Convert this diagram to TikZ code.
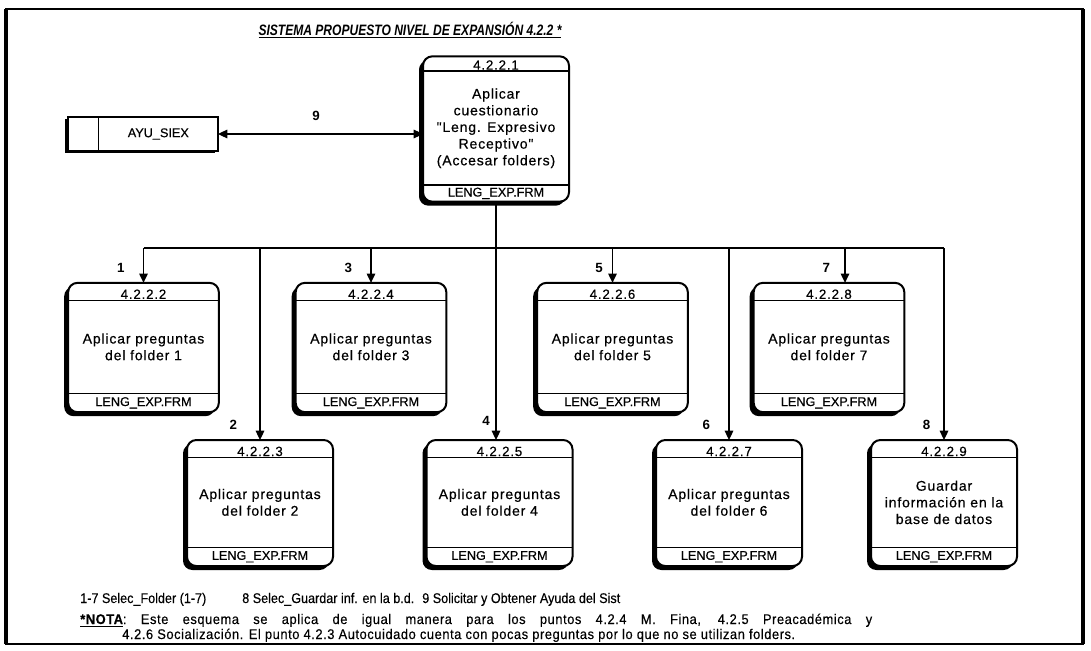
\documentclass[tikz,border=0pt]{standalone}
\usepackage{fontspec}
\setmainfont{Liberation Sans}
\newfontfamily\boxfont[LetterSpace=6,FakeBold=0.5]{Liberation Sans}
\newfontfamily\frmfont[FakeBold=0.5]{Liberation Sans}
\newfontfamily\titlefont[FakeStretch=0.8]{Liberation Sans}
\newfontfamily\legendfont[FakeStretch=0.9,FakeBold=0.3]{Liberation Sans}
\newfontfamily\notefont[LetterSpace=4,FakeStretch=0.92,FakeBold=0.3]{Liberation Sans}
\usetikzlibrary{arrows.meta,shadows}

% process box: rounded frame with shadow, id strip on top, form strip below
\newcommand\procnode[5]{%
  \node[proc,#5] (#1) at (#2) {};
  \draw[sepline] ([yshift=-13pt]#1.north west) -- ([yshift=-13pt]#1.north east);
  \draw[sepline] ([yshift=14pt]#1.south west) -- ([yshift=14pt]#1.south east);
  \node[idtext, anchor=base] (#1-id) at ([yshift=-12pt]#1.north) {#3};
  \node[bodytext] (#1-txt) at ([yshift=0.5pt]#1.center) {#4};
  \node[frmtext] (#1-frm) at ([yshift=7pt]#1.south) {LENG\_EXP.FRM};
}

\begin{document}
\begin{tikzpicture}[x=0.75pt,y=-0.75pt,
  proc/.style={draw, line width=1.5pt, rounded corners=7pt, fill=white,
    inner sep=0pt, outer sep=0pt, minimum width=113pt, minimum height=97pt,
    drop shadow={shadow xshift=-3pt, shadow yshift=-3pt, opacity=1, fill=black}},
  row2/.style={minimum width=109.5pt, minimum height=94.5pt},
  store/.style={draw, line width=1.3pt, fill=white, inner sep=0pt, outer sep=0pt,
    minimum width=112.5pt, minimum height=25pt,
    drop shadow={shadow xshift=-2.5pt, shadow yshift=-1.5pt, opacity=1, fill=black}},
  sepline/.style={line width=1pt},
  idtext/.style={font=\boxfont\fontsize{10}{12}\selectfont, inner sep=0pt},
  bodytext/.style={font=\boxfont\fontsize{10.5}{12.5}\selectfont, align=center, inner sep=0pt},
  frmtext/.style={font=\frmfont\fontsize{9.5}{11}\selectfont, inner sep=0pt},
  link/.style={line width=0.8pt},
  flow/.style={line width=0.8pt, -{Triangle[length=7pt,width=6.5pt]}},
  biflow/.style={line width=0.8pt, {Triangle[length=7pt,width=6.5pt]}-{Triangle[length=7pt,width=6.5pt]}},
  flownum/.style={font=\bfseries\fontsize{10}{11}\selectfont, inner sep=0pt},
  legend/.style={font=\legendfont\fontsize{10.5}{12}\selectfont, inner sep=0pt, anchor=base west},
  note/.style={font=\notefont\fontsize{10.5}{12}\selectfont, inner sep=0pt, anchor=base west}
]
\useasboundingbox (0,0) rectangle (1091,650);

% outer frame, heavier on the sides
\draw[line width=1.5pt] (6,9) rectangle (1083,644);
\draw[line width=3pt] (6,9) -- (6,644) (1083,9) -- (1083,644);

% title
\node[font=\titlefont\bfseries\itshape\fontsize{11.3}{14}\selectfont, inner sep=0pt] (title) at (410,30)
  {\underline{SISTEMA PROPUESTO NIVEL DE EXPANSIÓN 4.2.2 *}};

% main process
\node[proc, minimum width=109.5pt, minimum height=109pt] (p1) at (496,129) {};
\draw[sepline] ([yshift=-11pt]p1.north west) -- ([yshift=-11pt]p1.north east);
\draw[sepline] ([yshift=12.5pt]p1.south west) -- ([yshift=12.5pt]p1.south east);
\node[idtext, anchor=base] (p1-id) at ([yshift=-10pt]p1.north) {4.2.2.1};
\node[bodytext] (p1-txt) at ([yshift=0.5pt]p1.center)
  {Aplicar\\cuestionario\\"Leng. Expresivo\\Receptivo"\\(Accesar folders)};
\node[frmtext] (p1-frm) at ([yshift=6.25pt]p1.south) {LENG\_EXP.FRM};

% help data store
\node[store] (st) at (143,134) {};
\draw[line width=1pt] ([xshift=23pt]st.north west) -- ([xshift=23pt]st.south west);
\node[font=\frmfont\fontsize{9.5}{11}\selectfont, inner sep=0pt] (st-txt) at ([xshift=11.5pt]st.center) {AYU\_SIEX};

\draw[biflow] (st.east) -- (st.east -| p1.west);
\node[flownum] (n9) at (316,116) {9};

% first row of sub-processes
\procnode{b1}{143.5,347.5}{4.2.2.2}{Aplicar preguntas\\del folder 1}{}
\procnode{b3}{371,347.5}{4.2.2.4}{Aplicar preguntas\\del folder 3}{}
\procnode{b5}{612.5,347.5}{4.2.2.6}{Aplicar preguntas\\del folder 5}{}
\procnode{b7}{829,347.5}{4.2.2.8}{Aplicar preguntas\\del folder 7}{}

% second row of sub-processes
\procnode{b2}{260,503}{4.2.2.3}{Aplicar preguntas\\del folder 2}{row2}
\procnode{b4}{499.5,503}{4.2.2.5}{Aplicar preguntas\\del folder 4}{row2}
\procnode{b6}{729,503}{4.2.2.7}{Aplicar preguntas\\del folder 6}{row2}
\procnode{b8}{944,503}{4.2.2.9}{Guardar\\información en la\\base de datos}{row2}

% distribution bus
\coordinate (bus) at (0,248);
\draw[link] (b1.north |- bus) -- (b8.north |- bus);
\draw[flow] (p1.south) -- (p1.south |- b4.north);
\draw[flow] (b1.north |- bus) -- (b1.north);
\draw[flow] (b2.north |- bus) -- (b2.north);
\draw[flow] (b3.north |- bus) -- (b3.north);
\draw[flow] (b5.north |- bus) -- (b5.north);
\draw[flow] (b6.north |- bus) -- (b6.north);
\draw[flow] ([xshift=12pt]b7.north |- bus) -- ([xshift=12pt]b7.north);
\draw[flow] (b8.north |- bus) -- (b8.north);

% flow numbers
\node[flownum] (n1) at ([xshift=-17pt,yshift=11pt]b1.north) {1};
\node[flownum] (n3) at ([xshift=-17pt,yshift=11pt]b3.north) {3};
\node[flownum] (n5) at ([xshift=-10pt,yshift=11pt]b5.north) {5};
\node[flownum] (n7) at ([xshift=-2pt,yshift=11pt]b7.north) {7};
\node[flownum] (n2) at ([xshift=-20pt,yshift=11pt]b2.north) {2};
\node[flownum] (n4) at ([xshift=-10pt,yshift=14pt]b4.north) {4};
\node[flownum] (n6) at ([xshift=-17pt,yshift=11pt]b6.north) {6};
\node[flownum] (n8) at ([xshift=-13pt,yshift=11pt]b8.north) {8};

% legend and note
\node[legend] (lg1) at (80,603) {1-7 Selec\_Folder (1-7)};
\node[legend] (lg2) at (242,603) {8 Selec\_Guardar inf. en la b.d.};
\node[legend] (lg3) at (422,603) {9 Solicitar y Obtener Ayuda del Sist};
\node[note] (nt1) at (80,624) {\makebox[594pt][s]{\textbf{\underline{*NOTA}}:\ Este esquema se aplica de igual manera para los puntos 4.2.4 M. Fina, 4.2.5 Preacadémica y}};
\node[note] (nt2) at (122,639) {4.2.6 Socialización. El punto 4.2.3 Autocuidado cuenta con pocas preguntas por lo que no se utilizan folders.};
\end{tikzpicture}
\end{document}
